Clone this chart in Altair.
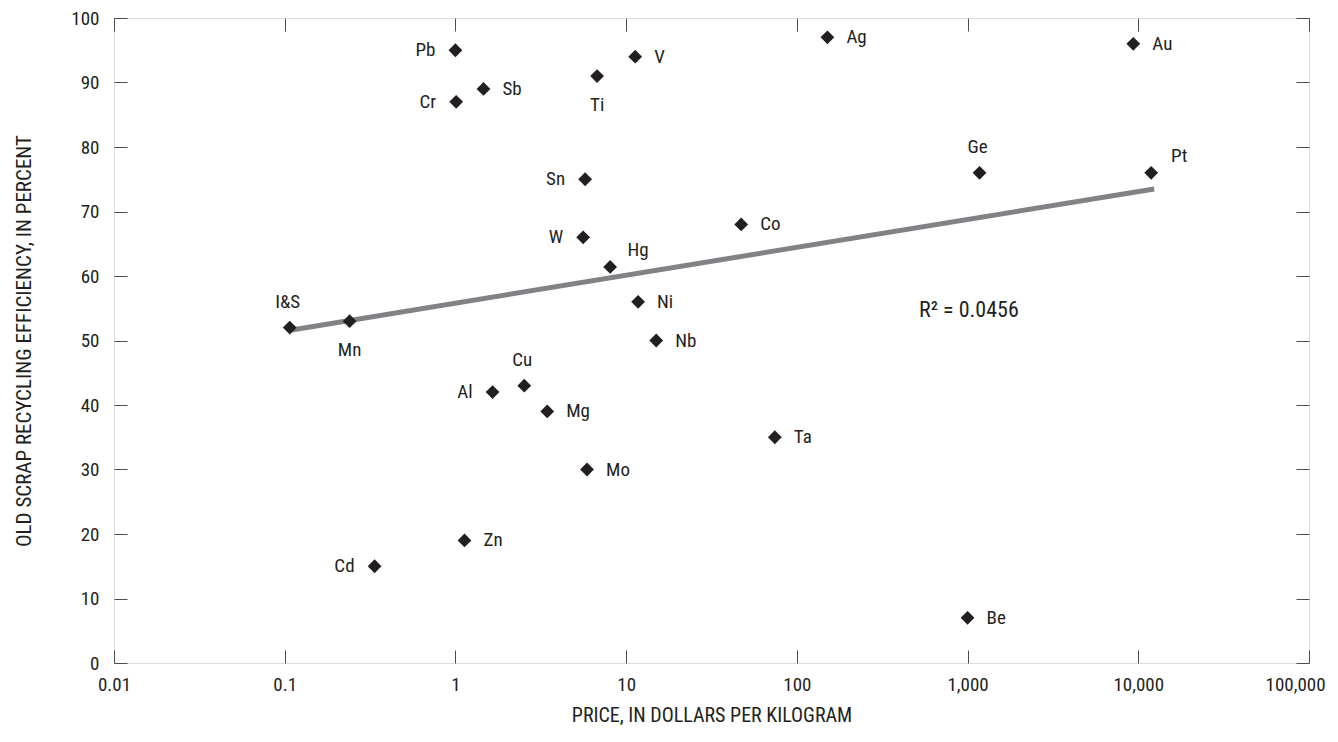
import altair as alt
import pandas as pd

# --- data ---
elements = ["I&S", "Mn", "Cd", "Pb", "Cr", "Zn", "Sb", "Al", "Cu", "Mg", "Sn", "W", "Mo",
            "Ti", "Hg", "V", "Ni", "Nb", "Co", "Ta", "Ag", "Be", "Ge", "Au", "Pt"]
price = [0.107, 0.24, 0.336, 1.0, 1.01, 1.13, 1.46, 1.65, 2.53, 3.45, 5.75, 5.6, 5.9,
         6.76, 8.06, 11.3, 11.75, 15.0, 47.2, 74.3, 151, 1000, 1175, 9350, 11900]
efficiency = [52, 53, 15, 95, 87, 19, 89, 42, 43, 39, 75, 66, 30,
              91, 61.4, 94, 56, 50, 68, 35, 97, 7, 76, 96, 76]
placement = ["above", "below", "left", "left", "left", "right", "right", "left", "above", "right",
             "left", "left", "right", "below", "aboveright", "right", "right", "right", "right",
             "right", "right", "right", "above", "right", "aboveright"]

trend_price = [0.1076, 12390]
trend_eff = [51.6, 73.5]

r2_label = ["R\u00b2 = 0.0456"]
r2_price = [520]
r2_eff = [54.7]

x_ticks = [0.01, 0.1, 1, 10, 100, 1000, 10000, 100000]
y_ticks = [0, 10, 20, 30, 40, 50, 60, 70, 80, 90, 100]

df = pd.DataFrame({"name": elements, "price": price, "eff": efficiency, "place": placement})
trend_df = pd.DataFrame({"price": trend_price, "eff": trend_eff})
r2_df = pd.DataFrame({"label": r2_label, "price": r2_price, "eff": r2_eff})

FONT = "Roboto Condensed, Roboto, sans-serif"
INK = "#231f20"
FRAME = "#4d4d4d"

xscale = alt.Scale(type="log", domain=[0.01, 100000], nice=False)
yscale = alt.Scale(domain=[0, 100], nice=False)

x_axis = alt.Axis(values=x_ticks, format=",", orient="bottom", offset=-13, tickSize=13,
                  domain=False, grid=False, labelFlush=False, labelPadding=12,
                  labelOffset={"condition": {"test": "datum.value >= 100000", "value": -14},
                               "value": 0},
                  labelFontSize=19, labelFont=FONT, labelColor=INK, tickColor=FRAME,
                  title="PRICE, IN DOLLARS PER KILOGRAM", titleFont=FONT, titleFontSize=20,
                  titleFontWeight="normal", titleColor=INK, titlePadding=11)
y_axis = alt.Axis(values=y_ticks, orient="left", offset=-13, tickSize=13,
                  domain=False, grid=False, labelPadding=15,
                  labelFontSize=19, labelFont=FONT, labelColor=INK, tickColor=FRAME,
                  title="OLD SCRAP RECYCLING EFFICIENCY, IN PERCENT", titleFont=FONT,
                  titleFontSize=21, titleFontWeight="normal", titleColor=INK, titlePadding=36)
x_axis_top = alt.Axis(values=x_ticks, orient="top", offset=-13, tickSize=13, domain=False,
                      grid=False, labels=False, title=None, tickColor=FRAME)
y_axis_right = alt.Axis(values=y_ticks, orient="right", offset=-13, tickSize=13, domain=False,
                        grid=False, labels=False, title=None, tickColor=FRAME)

points = alt.Chart(df).mark_point(shape="diamond", filled=True, size=190, color=INK,
                                  opacity=1).encode(
    x=alt.X("price:Q", scale=xscale, axis=x_axis),
    y=alt.Y("eff:Q", scale=yscale, axis=y_axis),
)

mirror = alt.Chart(df).mark_point(opacity=0).encode(
    x=alt.X("price:Q", scale=xscale, axis=x_axis_top),
    y=alt.Y("eff:Q", scale=yscale, axis=y_axis_right),
)

trend = alt.Chart(trend_df).mark_line(color="#808285", strokeWidth=5).encode(
    x=alt.X("price:Q", scale=xscale, axis=None),
    y=alt.Y("eff:Q", scale=yscale, axis=None),
)

def labels(place, align, dx, dy):
    return alt.Chart(df).transform_filter(alt.datum.place == place).mark_text(
        align=align, baseline="middle", dx=dx, dy=dy, font=FONT, fontSize=19, color=INK
    ).encode(
        x=alt.X("price:Q", scale=xscale, axis=None),
        y=alt.Y("eff:Q", scale=yscale, axis=None),
        text="name:N",
    )

r2 = alt.Chart(r2_df).mark_text(align="left", baseline="middle", font=FONT, fontSize=22,
                                color=INK).encode(
    x=alt.X("price:Q", scale=xscale, axis=None),
    y=alt.Y("eff:Q", scale=yscale, axis=None),
    text="label:N",
)

chart = alt.layer(
    trend, points, mirror,
    labels("right", "left", 19, 0),
    labels("left", "right", -20, 0),
    labels("above", "center", -2, -26),
    labels("below", "center", 0, 29),
    labels("aboveright", "center", 28, -17),
    r2,
).resolve_axis(x="independent", y="independent").properties(
    width=1195, height=645,
    autosize=alt.AutoSizeParams(type="none"),
    padding={"left": 106, "top": 10, "right": 21, "bottom": 66},
).configure_view(stroke=FRAME, strokeWidth=1.5).configure(background="white")

chart.save("out.html", embed_options={"renderer": "svg", "actions": False})
